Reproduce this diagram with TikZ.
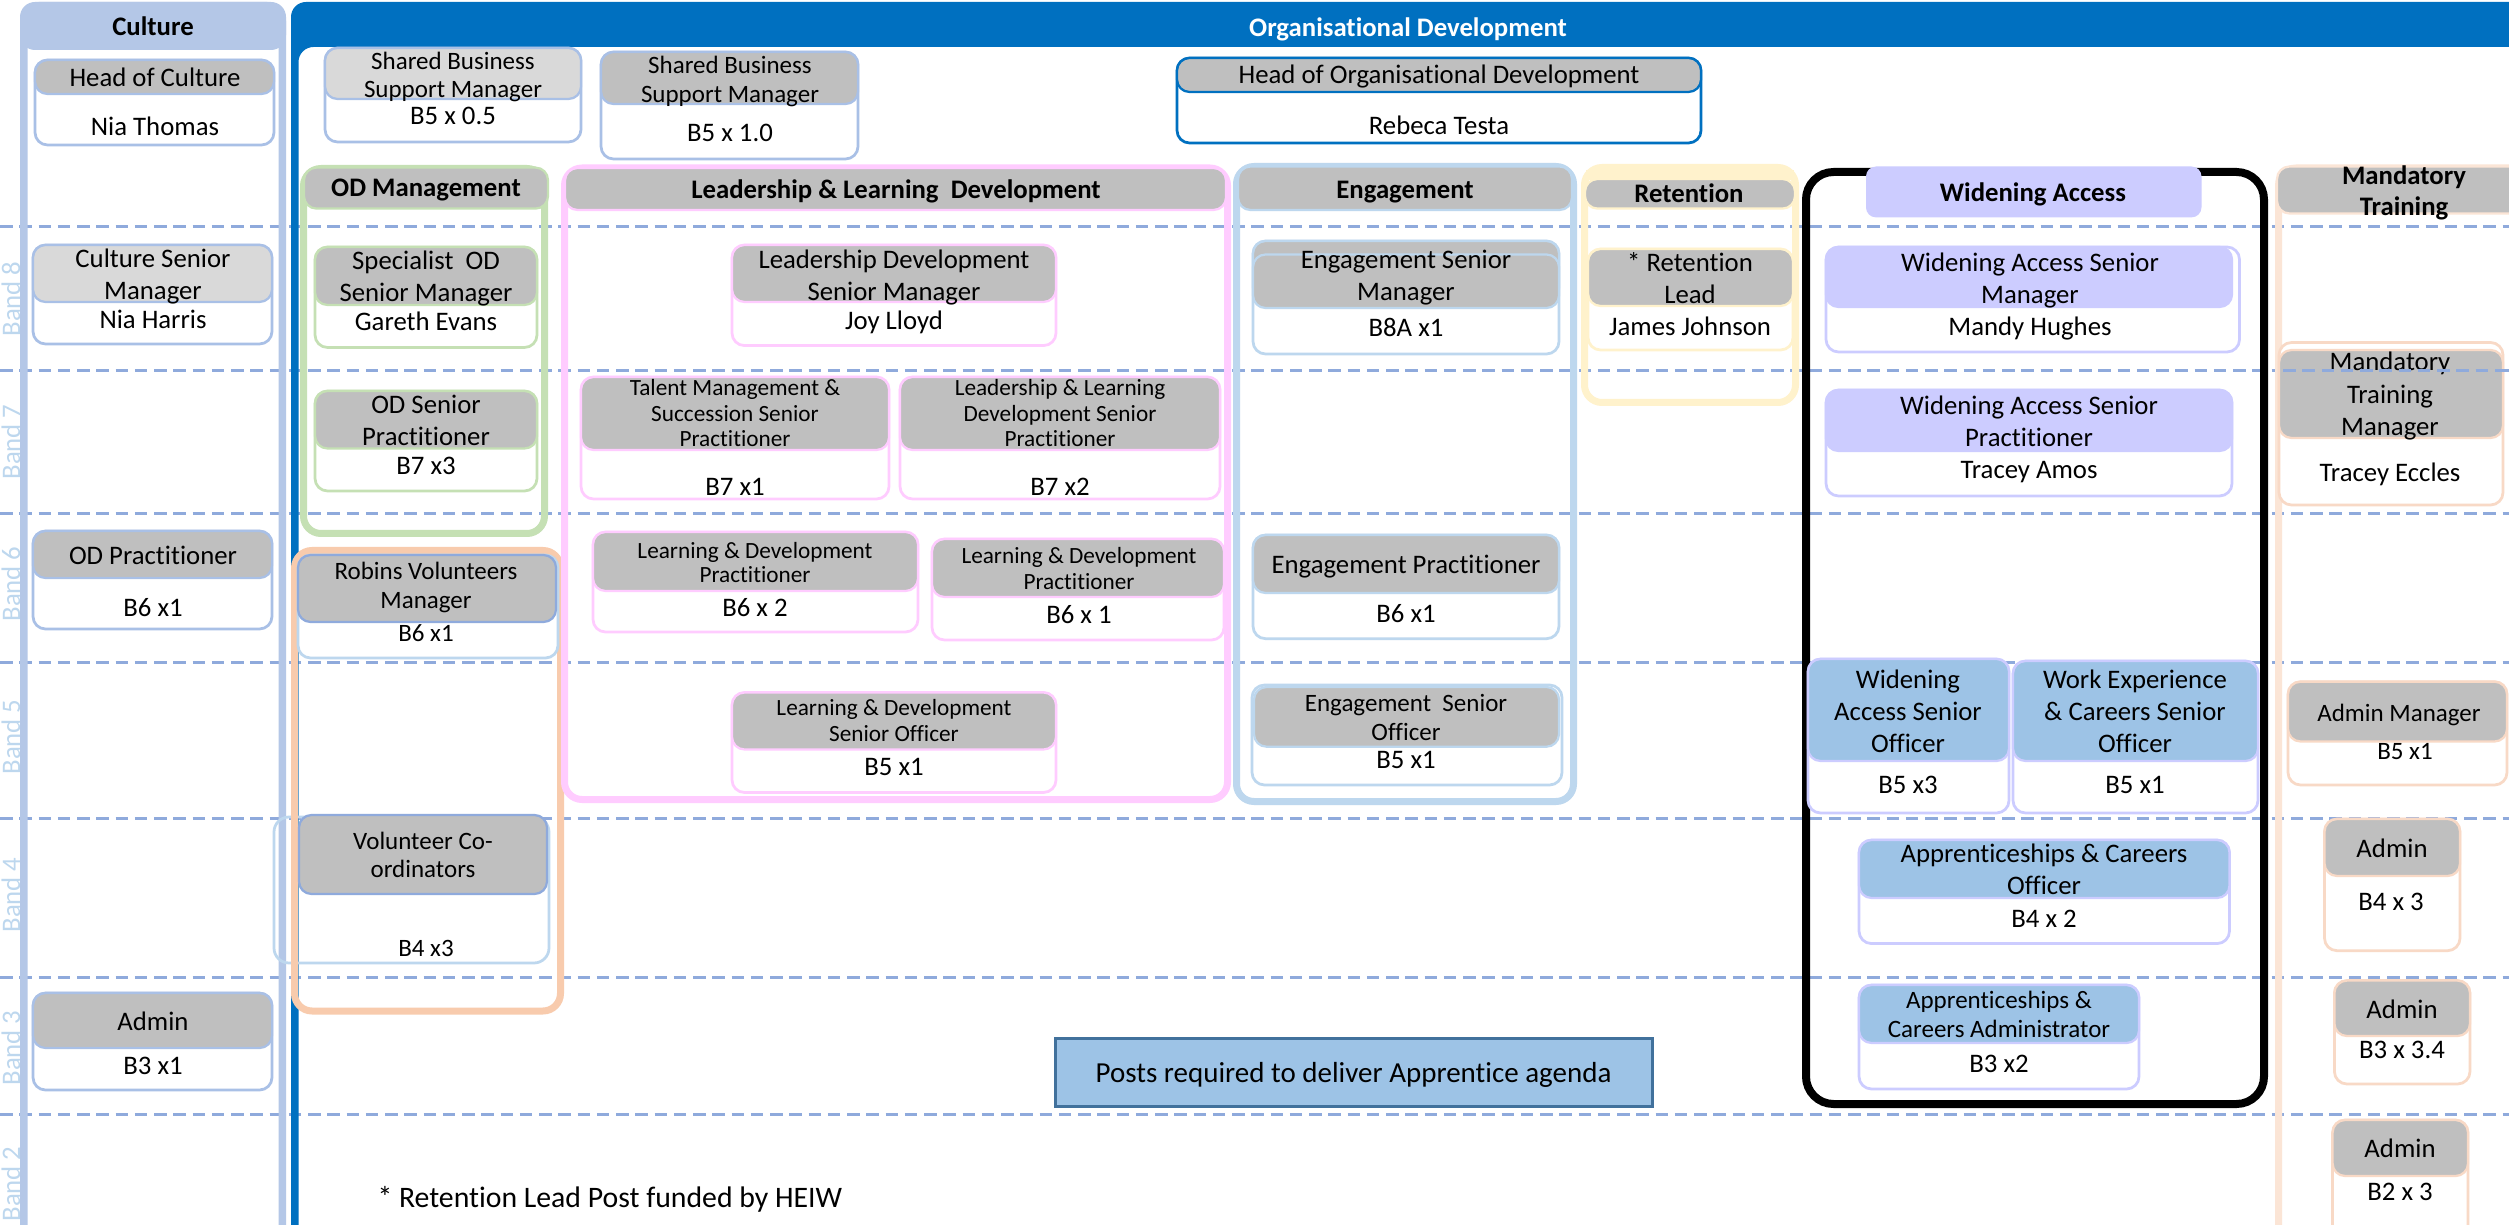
\documentclass[tikz,border=0pt]{standalone}
\usepackage{fontspec}
\setmainfont{Carlito}[Ligatures={NoCommon}]
\definecolor{hdgray}{HTML}{BFBFBF}
\definecolor{ltgray}{HTML}{D9D9D9}
\definecolor{cultblue}{HTML}{B4C7E7}
\definecolor{cultline}{HTML}{A9C0E6}
\definecolor{bandline}{HTML}{8FAADC}
\definecolor{bandtext}{HTML}{BDD7EE}
\definecolor{odblue}{HTML}{0070C0}
\definecolor{grn}{HTML}{C5E0B4}
\definecolor{pnk}{HTML}{FFCCFF}
\definecolor{engblue}{HTML}{BDD7EE}
\definecolor{ylw}{HTML}{FFF2CC}
\definecolor{lav}{HTML}{CCCCFF}
\definecolor{wablue}{HTML}{9DC3E6}
\definecolor{peach}{HTML}{FBE5D6}
\definecolor{peachline}{HTML}{F8D9C6}
\definecolor{orng}{HTML}{F8CBAD}
\definecolor{postedge}{HTML}{41719C}
\definecolor{volblue}{HTML}{8FAADC}
\newcommand\szN{\fontsize{10.7pt}{12pt}\selectfont}
\newcommand\szM{\fontsize{10pt}{12pt}\selectfont}
\newcommand\szS{\fontsize{9.3pt}{11pt}\selectfont}
\newcommand\szL{\fontsize{11.6pt}{14pt}\selectfont}
\newcommand\szF{\fontsize{11.9pt}{14pt}\selectfont}
% outline colour, header fill, x1, y1, x2, y2, header bottom
\newcommand\postbox[7]{%
  \draw[boxline, draw=#1] (#3,#4) rectangle (#5,#6);
  \draw[hdrline, draw=#1, fill=#2] (#3,#4) rectangle (#5,#7);}
\begin{document}
\begin{tikzpicture}[x=0.4pt,y=-0.4pt,
  boxline/.style={fill=white, line width=1.1pt, rounded corners=5pt},
  hdrline/.style={line width=0.9pt, rounded corners=5pt},
  grp/.style={line width=2.8pt, rounded corners=7pt},
  band/.style={draw=bandline, line width=1.2pt, dash pattern=on 5pt off 2.7pt},
  bandlbl/.style={rotate=90, inner sep=0pt, font=\szN, text=bandtext},
  txt/.style={anchor=base, inner sep=0pt, font=\szN, yshift=-3.45pt},
  txtb/.style={anchor=base, inner sep=0pt, font=\szN\bfseries, yshift=-3.45pt},
  txtm/.style={anchor=base, inner sep=0pt, font=\szM, yshift=-3.22pt},
  txts/.style={anchor=base, inner sep=0pt, font=\szS, yshift=-3.0pt},
  txtl/.style={anchor=base, inner sep=0pt, font=\szL, yshift=-3.75pt},
  txtf/.style={anchor=base west, inner sep=0pt, font=\szF, yshift=-3.83pt}]
\useasboundingbox (0,0) rectangle (2509,1225);
\clip (0,0) rectangle (2509,1225);
\fill[white] (0,0) rectangle (2509,1225);

% pay band separators
\foreach \yy in {227,371,514,662,818,977,1114}
  \draw[band] (0,\yy) -- (2509,\yy);

% band labels
\node[bandlbl] (band8) at (11,299) {Band 8};
\node[bandlbl] (band7) at (11,442) {Band 7};
\node[bandlbl] (band6) at (11,584) {Band 6};
\node[bandlbl] (band5) at (11,737) {Band 5};
\node[bandlbl] (band4) at (11,895) {Band 4};
\node[bandlbl] (band3) at (11,1048) {Band 3};
\node[bandlbl] (band2) at (11,1184) {Band 2};

% Culture panel
\draw[cultblue, line width=3pt, rounded corners=6pt] (23.75,5.75) rectangle (282.25,1300);
\fill[cultblue, rounded corners=6pt] (20,2) rectangle (286,50);
\node[txtb] (culture) at (153,27) {Culture};

\postbox{cultline}{hdgray}{35}{60}{274}{145}{94}
\node[txt] (hoc) at (155,78) {Head of Culture};
\node[txt] (hocname) at (155,127) {Nia Thomas};

\postbox{cultline}{ltgray}{33}{245}{272}{344}{302}
\node[txt] (csm1) at (153,259) {Culture Senior};
\node[txt] (csm2) at (153,291) {Manager};
\node[txt] (csmname) at (153,320) {Nia Harris};

\postbox{cultline}{hdgray}{33}{531}{272}{629}{578}
\node[txt] (odp) at (153,556) {OD Practitioner};
\node[txt] (odpband) at (153,608) {B6 x1};

\postbox{cultline}{hdgray}{33}{993}{272}{1090}{1048}
\node[txt] (cadm) at (153,1022) {Admin};
\node[txt] (cadmband) at (153,1066) {B3 x1};

% Organisational Development panel
\fill[odblue, rounded corners=6pt] (291,1300) -- (291,2) -- (2600,2) -- (2600,47)
  -- (298.5,47) -- (298.5,1300) -- cycle;
\node[txtb, text=white] (odtitle) at (1408,28) {Organisational Development};

\postbox{cultline}{ltgray}{325}{48}{581}{142}{99}
\node[txtm] (sbsa1) at (453,61) {Shared Business};
\node[txtm] (sbsa2) at (453,89) {Support Manager};
\node[txt] (sbsaband) at (453,116) {B5 x 0.5};

\postbox{cultline}{hdgray}{601}{52}{858}{159}{104}
\node[txtm] (sbsb1) at (730,65) {Shared Business};
\node[txtm] (sbsb2) at (730,94) {Support Manager};
\node[txt] (sbsbband) at (730,133) {B5 x 1.0};

\postbox{odblue}{hdgray}{1177}{58}{1701}{143}{92}
\node[txt] (hod) at (1439,75) {Head of Organisational Development};
\node[txt] (hodname) at (1439,126) {Rebeca Testa};

% volunteer outline sits beneath the volunteering group frame
\draw[line width=1.1pt, rounded corners=6pt, draw=engblue] (274,817) rectangle (549,963);

% OD Management
\draw[grp, draw=grn] (303.5,168.5) rectangle (544.5,533.5);
\draw[hdrline, draw=grn, fill=hdgray] (304,167.6) rectangle (548,208.6);
\node[txtb] (odm) at (426,188) {OD Management};
\postbox{grn}{hdgray}{315}{247}{537}{347.5}{305}
\node[txt] (sodsm1) at (426,261) {Specialist~ OD};
\node[txt] (sodsm2) at (426,293) {Senior Manager};
\node[txt] (sodsmname) at (426,321.5) {Gareth Evans};
\postbox{grn}{hdgray}{315}{391}{537}{491}{448.5}
\node[txt] (odsp1) at (426,405) {OD Senior};
\node[txt] (odsp2) at (426,437) {Practitioner};
\node[txt] (odspband) at (426,466) {B7 x3};

% Volunteering
\draw[grp, draw=orng] (294.5,550.5) rectangle (560.5,1011);
\draw[boxline, draw=engblue] (298,555) rectangle (558,658);
\draw[hdrline, draw=volblue, fill=hdgray] (298,555) rectangle (556,622);
\node[txtm] (rvm1) at (426,571) {Robins Volunteers};
\node[txtm] (rvm2) at (426,600) {Manager};
\node[txtm] (rvmband) at (426,633) {B6 x1};
\draw[hdrline, draw=volblue, fill=hdgray] (299,815) rectangle (547,894);
\node[txtm] (vc1) at (423,841) {Volunteer Co-};
\node[txtm] (vc2) at (423,869) {ordinators};
\node[txtm] (vcband) at (426,948) {B4 x3};

% Leadership & Learning Development
\draw[grp, draw=pnk] (564.5,168) rectangle (1227.5,799.5);
\draw[hdrline, draw=pnk, fill=hdgray] (565,168) rectangle (1226,210);
\node[txtb] (lld) at (896,189.5) {Leadership \& Learning~ Development};
\postbox{pnk}{hdgray}{732}{245}{1056}{345.6}{302}
\node[txt] (ldsm1) at (894,260) {Leadership Development};
\node[txt] (ldsm2) at (894,292) {Senior Manager};
\node[txt] (ldsmname) at (894,321) {Joy Lloyd};
\postbox{pnk}{hdgray}{581}{377}{889}{499}{450}
\node[txts] (tms1) at (735,388.5) {Talent Management \&};
\node[txts] (tms2) at (735,413.7) {Succession Senior};
\node[txts] (tms3) at (735,439.3) {Practitioner};
\node[txt] (tmsband) at (735,487) {B7 x1};
\postbox{pnk}{hdgray}{900}{377}{1220}{499}{450}
\node[txts] (llsp1) at (1060,388.5) {Leadership \& Learning};
\node[txts] (llsp2) at (1060,413.7) {Development Senior};
\node[txts] (llsp3) at (1060,439.3) {Practitioner};
\node[txt] (llspband) at (1060,487) {B7 x2};
\postbox{pnk}{hdgray}{593}{532}{918}{632}{591}
\node[txts] (ldpa1) at (755,551) {Learning \& Development};
\node[txts] (ldpa2) at (755,575) {Practitioner};
\node[txt] (ldpaband) at (755,608) {B6 x 2};
\postbox{pnk}{hdgray}{932}{539}{1224}{640}{597}
\node[txts] (ldpb1) at (1079,556) {Learning \& Development};
\node[txts] (ldpb2) at (1079,582) {Practitioner};
\node[txt] (ldpbband) at (1079,615) {B6 x 1};
\postbox{pnk}{hdgray}{732}{692.5}{1056}{792.5}{749.5}
\node[txts] (ldso1) at (894,708) {Learning \& Development};
\node[txts] (ldso2) at (894,734) {Senior Officer};
\node[txt] (ldsoband) at (894,766.6) {B5 x1};

% Engagement
\draw[grp, draw=engblue] (1236.5,166.5) rectangle (1573.5,801.5);
\draw[hdrline, draw=engblue, fill=hdgray] (1238,166.5) rectangle (1572,210);
\node[txtb] (eng) at (1405,189.5) {Engagement};
\draw[boxline, draw=engblue] (1253,241) rectangle (1559,354);
\draw[hdrline, draw=engblue, fill=hdgray] (1253,241) rectangle (1559,300);
\draw[hdrline, draw=engblue, fill=hdgray] (1253,254.5) rectangle (1559,308);
\node[txt] (esm1) at (1406,260) {Engagement Senior};
\node[txt] (esm2) at (1406,292) {Manager};
\node[txt] (esmband) at (1406,328) {B8A x1};
\postbox{engblue}{hdgray}{1253}{535}{1559}{638.7}{593}
\node[txt] (ep) at (1406,564.5) {Engagement Practitioner};
\node[txt] (epband) at (1406,614) {B6 x1};
\draw[boxline, draw=engblue] (1252,685) rectangle (1562,785);
\draw[hdrline, draw=engblue, fill=hdgray] (1254,687) rectangle (1559,746.7);
\node[txtm] (eso1) at (1406,703.6) {Engagement~ Senior};
\node[txtm] (eso2) at (1406,732) {Officer};
\node[txt] (esoband) at (1406,759.4) {B5 x1};

% Retention
\draw[grp, draw=ylw] (1584.5,167.5) rectangle (1795.5,402.5);
\fill[ylw] (1586,170) rectangle (1794,180);
\draw[hdrline, draw=ylw, fill=hdgray] (1585,179) rectangle (1795,208.6);
\node[txtb] (ret) at (1689,194) {Retention};
\postbox{ylw}{hdgray}{1588}{249}{1793}{350}{306}
\node[txt] (rl1) at (1690,263) {* Retention};
\node[txt] (rl2) at (1690,294.7) {Lead};
\node[txt] (rlname) at (1690,326.5) {James Johnson};

% Widening Access
\draw[line width=3.2pt, rounded corners=11pt] (1806,172) rectangle (2264,1104);
\fill[lav, rounded corners=4pt] (1866,166.5) rectangle (2201.5,217.4);
\node[txtb] (wa) at (2033,193) {Widening Access};
\draw[boxline, draw=lav] (1826,247) rectangle (2239.5,352);
\draw[hdrline, draw=lav, fill=lav] (1826,247) rectangle (2232,307);
\node[txt] (wasm1) at (2030,263) {Widening Access Senior};
\node[txt] (wasm2) at (2030,294.7) {Manager};
\node[txt] (wasmname) at (2030,327) {Mandy Hughes};
\postbox{lav}{lav}{1826}{390}{2232}{496}{451}
\node[txt] (wasp1) at (2029,406) {Widening Access Senior};
\node[txt] (wasp2) at (2029,438) {Practitioner};
\node[txt] (waspname) at (2029,470) {Tracey Amos};
\postbox{lav}{wablue}{1808}{659}{2009}{813}{761}
\node[txt] (waso1) at (1908,679.7) {Widening};
\node[txt] (waso2) at (1908,711.6) {Access Senior};
\node[txt] (waso3) at (1908,743.5) {Officer};
\node[txt] (wasoband) at (1908,784.5) {B5 x3};
\postbox{lav}{wablue}{2013}{661}{2258}{813}{761}
\node[txt] (wec1) at (2135,679.7) {Work Experience};
\node[txt] (wec2) at (2135,711.6) {\& Careers Senior};
\node[txt] (wec3) at (2135,743.5) {Officer};
\node[txt] (wecband) at (2135,785) {B5 x1};
\postbox{lav}{wablue}{1859}{840}{2229.5}{943.6}{898}
\node[txt] (aco1) at (2044,854) {Apprenticeships \& Careers};
\node[txt] (aco2) at (2044,885.8) {Officer};
\node[txt] (acoband) at (2044,918.8) {B4 x 2};
\postbox{lav}{wablue}{1859}{985}{2139}{1089}{1043}
\node[txtm] (aca1) at (1999,1000.5) {Apprenticeships \&};
\node[txtm] (aca2) at (1999,1029.6) {Careers Administrator};
\node[txt] (acaband) at (1999,1063.5) {B3 x2};

% Mandatory Training
\draw[grp, draw=peach] (2278.5,168) rectangle (2560,1300);
\draw[hdrline, draw=peach, fill=hdgray] (2277,166.5) rectangle (2560,213.5);
\node[txtb] (mt1) at (2404,176) {Mandatory};
\node[txtb] (mt2) at (2404,206.7) {Training};
\draw[boxline, draw=peachline] (2279,342.5) rectangle (2503,505);
\draw[hdrline, draw=peachline, fill=hdgray] (2279,350) rectangle (2503,438);
\node[txt] (mtm1) at (2390,361.6) {Mandatory};
\node[txt] (mtm2) at (2390,395) {Training};
\node[txt] (mtm3) at (2390,426.7) {Manager};
\node[txt] (mtmname) at (2390,472.6) {Tracey Eccles};
\draw[band] (2283,371) -- (2509,371);
\postbox{peachline}{hdgray}{2288}{681.7}{2507}{785}{741.5}
\node[txtm] (am) at (2399,713.6) {Admin Manager};
\node[txtm] (amband) at (2405,751.5) {B5 x1};
\postbox{peachline}{hdgray}{2324.5}{819}{2460}{950.7}{876}
\node[txt] (adm4) at (2392,849) {Admin};
\node[txt] (adm4band) at (2391,901.7) {B4 x 3};
\postbox{peachline}{hdgray}{2334.4}{980.6}{2470}{1084}{1036}
\node[txt] (adm3) at (2402,1009.7) {Admin};
\node[txt] (adm3band) at (2402,1049.6) {B3 x 3.4};
\postbox{peachline}{hdgray}{2332.6}{1120}{2468}{1260}{1176}
\node[txt] (adm2) at (2400,1149) {Admin};
\node[txt] (adm2band) at (2400,1192) {B2 x 3};

% key and note
\draw[postedge, fill=wablue, line width=1.2pt] (1055,1038) rectangle (1652,1106);
\node[txtl] (posts) at (1353.5,1073.5) {Posts required to deliver Apprentice agenda};
\node[txtf] (note) at (377,1198) {* Retention Lead Post funded by HEIW};
\end{tikzpicture}
\end{document}
